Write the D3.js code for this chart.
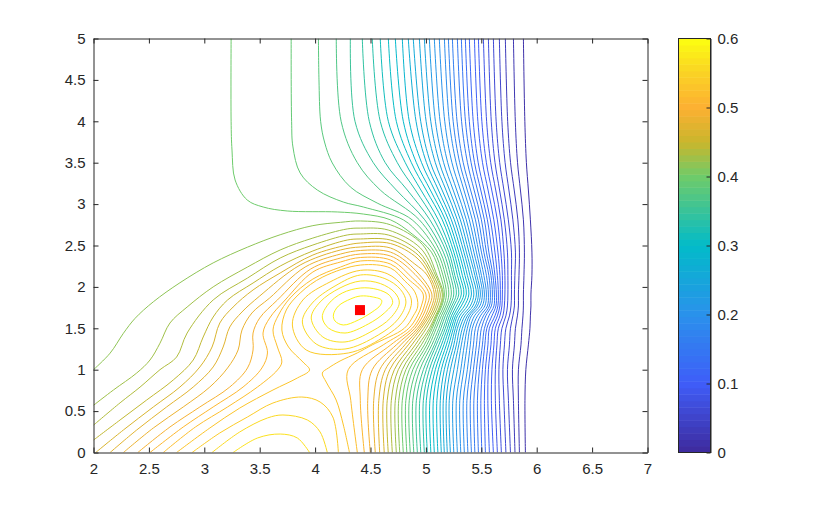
<!DOCTYPE html>
<html><head><meta charset="utf-8">
<script src="https://cdnjs.cloudflare.com/ajax/libs/d3/7.8.5/d3.min.js"></script>
<style>html,body{margin:0;background:#fff}svg{display:block}text{font-family:"Liberation Sans",Arial,sans-serif}</style>
</head><body><svg id="c" width="813" height="509"></svg>
<script>
const levelStep = 0.0118;
const colorbarTicks = [0,0.1,0.2,0.3,0.4,0.5,0.6];
const xTicks = [2,2.5,3,3.5,4,4.5,5,5.5,6,6.5,7];
const yTicks = [0,0.5,1,1.5,2,2.5,3,3.5,4,4.5,5];
const marker = [4.405,1.72];
const colorStops = [0,0.1,0.2,0.3,0.4,0.45,0.5,0.55,0.6];
const colorValues = ["#3e2a9c","#3f5df8","#2a91ec","#02bbc9","#6fcb6a","#c9b62c","#fdb032","#fad225","#fcff10"];

// contour crossings, one entry per level 1,2,3..., at each height
const upperY = [5,4,3.5,3.17,2.81,2.42,2.14];
const x500 = [5.880,5.790,5.717,5.663,5.609,5.564,5.519,5.474,5.438,5.392,5.356,5.320,5.284,5.239,5.203,5.167,5.121,5.076,5.031,4.986,4.941,4.886,4.841,4.787,4.724,4.661,4.588,4.516,4.426,4.318,4.191];
const x400 = [5.893,5.807,5.738,5.686,5.634,5.590,5.548,5.505,5.469,5.427,5.392,5.357,5.322,5.281,5.246,5.211,5.170,5.128,5.086,5.044,5.002,4.953,4.911,4.850,4.796,4.733,4.661,4.588,4.489,4.360,4.235];
const x350 = [5.907,5.827,5.764,5.715,5.666,5.624,5.585,5.546,5.511,5.472,5.439,5.408,5.375,5.337,5.305,5.273,5.235,5.197,5.160,5.122,5.085,5.041,5.005,4.961,4.914,4.869,4.814,4.742,4.633,4.525,4.381];
const x317 = [5.925,5.853,5.797,5.749,5.704,5.665,5.630,5.594,5.561,5.525,5.495,5.465,5.435,5.403,5.373,5.343,5.311,5.278,5.246,5.213,5.181,5.146,5.113,5.078,5.040,5.002,4.955,4.905,4.832,4.733,4.588];
const x281 = [5.943,5.880,5.830,5.785,5.744,5.708,5.677,5.645,5.613,5.582,5.555,5.528,5.501,5.474,5.447,5.419,5.392,5.365,5.338,5.311,5.284,5.257,5.230,5.203,5.175,5.148,5.112,5.076,5.036,4.990,4.941];
const x242 = [5.957,5.889,5.844,5.808,5.772,5.736,5.704,5.677,5.650,5.623,5.596,5.568,5.546,5.523,5.501,5.478,5.456,5.433,5.410,5.388,5.365,5.343,5.320,5.297,5.275,5.252,5.230,5.207,5.185,5.158,5.130];
const x214 = [5.957,5.885,5.840,5.803,5.772,5.740,5.713,5.690,5.668,5.645,5.623,5.605,5.587,5.568,5.546,5.523,5.501,5.483,5.460,5.442,5.419,5.397,5.374,5.352,5.329,5.306,5.284,5.261,5.243,5.221,5.198];

const lowerY = [1.914,1.77,1.65,1.5,1.3,1.0,0.63,0];
const x191 = [5.948,5.880,5.835,5.799,5.772,5.740,5.713,5.690,5.672,5.654,5.636,5.618,5.600,5.582,5.564,5.546,5.528,5.510,5.492,5.474,5.456,5.433,5.411,5.388,5.365,5.343,5.320,5.297,5.275,5.252,5.230,5.207,5.185,5.167];
const x177 = [5.948,5.880,5.835,5.799,5.768,5.736,5.708,5.686,5.668,5.650,5.632,5.614,5.591,5.573,5.555,5.532,5.510,5.487,5.465,5.447,5.424,5.401,5.374,5.347,5.320,5.297,5.275,5.252,5.234,5.216,5.198,5.180,5.162,5.144,5.135,5.126,5.108,5.090,5.072,5.054,5.031,5.009,4.986,4.959];
const x165 = [5.943,5.876,5.826,5.785,5.754,5.722,5.695,5.668,5.645,5.623,5.596,5.568,5.541,5.519,5.492,5.465,5.438,5.411,5.392,5.374,5.352,5.329,5.306,5.284,5.266,5.248,5.230,5.212,5.194,5.175,5.157,5.139,5.121,5.103,5.094,5.085,5.067,5.049,5.031,5.013,4.995,4.972,4.950,4.923];
const x150 = [5.939,5.867,5.808,5.763,5.722,5.686,5.654,5.627,5.600,5.573,5.550,5.528,5.501,5.474,5.447,5.419,5.397,5.374,5.352,5.329,5.306,5.284,5.266,5.248,5.230,5.212,5.194,5.175,5.157,5.135,5.117,5.094,5.076,5.058,5.045,5.031,5.004,4.982,4.959,4.941,4.923,4.900,4.877,4.846];
const x130 = [5.925,5.858,5.799,5.754,5.709,5.672,5.641,5.614,5.587,5.560,5.532,5.510,5.483,5.456,5.429,5.401,5.374,5.347,5.320,5.297,5.275,5.252,5.230,5.207,5.185,5.162,5.140,5.117,5.094,5.076,5.054,5.031,5.009,4.986,4.959,4.932,4.904,4.873,4.841,4.810,4.773,4.733,4.683,4.615];
const x100 = [5.902,5.835,5.781,5.736,5.695,5.659,5.627,5.596,5.564,5.537,5.510,5.483,5.456,5.429,5.401,5.374,5.342,5.315,5.284,5.252,5.221,5.194,5.166,5.139,5.112,5.085,5.058,5.031,5.004,4.977,4.945,4.914,4.882,4.850,4.819,4.787,4.751,4.715,4.674,4.633,4.583,4.516,4.426,4.299];
const x063 = [5.894,5.835,5.790,5.745,5.704,5.663,5.627,5.591,5.559,5.528,5.496,5.465,5.433,5.401,5.370,5.338,5.306,5.275,5.243,5.211,5.184,5.157,5.130,5.099,5.067,5.036,5.004,4.977,4.945,4.914,4.882,4.850,4.819,4.787,4.755,4.724,4.688,4.651,4.615,4.575,4.529,4.475,4.408,4.322];
const x000 = [5.898,5.844,5.804,5.763,5.722,5.681,5.645,5.609,5.573,5.537,5.505,5.474,5.442,5.411,5.379,5.347,5.315,5.284,5.252,5.221,5.193,5.166,5.139,5.108,5.076,5.045,5.013,4.986,4.954,4.923,4.891,4.859,4.828,4.796,4.764,4.733,4.697,4.660,4.624,4.583,4.543,4.498,4.444,4.381];

// upper parts of levels that do not follow the stations
const upper32 = [[4.03,5],[4.035,4.5],[4.05,4],[4.085,3.75],[4.155,3.497],[4.318,3.207],[4.56,3.013],[4.876,2.81],[5.103,2.42],[5.175,2.144]];
const upper33 = [[3.784,5],[3.788,4],[3.80,3.69],[3.865,3.376],[4.02,3.17],[4.254,3.025],[4.435,2.965],[4.796,2.81],[4.95,2.627],[5.076,2.42],[5.153,2.144]];
const upper34 = [[3.242,5],[3.242,4],[3.25,3.653],[3.278,3.291],[3.387,3.05],[3.531,2.965],[3.748,2.917],[4.20,2.905],[4.435,2.88],[4.68,2.81],[4.876,2.639],[5.05,2.42],[5.13,2.144]];
const upper35 = [[2,1.0],[2.15,1.20],[2.27,1.44],[2.375,1.62],[2.54,1.82],[2.78,2.05],[3.08,2.29],[3.39,2.48],[3.685,2.63],[3.98,2.74],[4.23,2.78],[4.41,2.796],[4.68,2.75],[4.97,2.51],[5.10,2.14],[5.157,1.914]];
const upper36 = [[2,0.57],[2.18,0.755],[2.39,0.96],[2.51,1.117],[2.60,1.32],[2.69,1.564],[2.845,1.757],[3.08,2.0],[3.39,2.24],[3.685,2.446],[3.98,2.59],[4.29,2.70],[4.41,2.71],[4.66,2.687],[4.95,2.47],[5.085,2.144],[5.148,1.914]];
const upper37 = [[2,0.33],[2.24,0.60],[2.42,0.79],[2.60,1.0],[2.75,1.153],[2.845,1.443],[3.08,1.842],[3.39,2.107],[3.685,2.349],[3.98,2.506],[4.29,2.627],[4.41,2.639],[4.66,2.627],[4.93,2.434],[5.067,2.144],[5.13,1.914]];
const upper38 = [[2,0.15],[2.24,0.393],[2.48,0.634],[2.72,0.876],[2.90,1.117],[2.99,1.395],[3.08,1.636],[3.21,1.842],[3.44,2.047],[3.685,2.252],[3.98,2.434],[4.29,2.566],[4.41,2.579],[4.68,2.566],[4.93,2.385],[5.05,2.144],[5.112,1.914]];
const upper39 = [[2.02,0],[2.27,0.272],[2.54,0.55],[2.78,0.791],[2.96,1.033],[3.07,1.274],[3.14,1.564],[3.26,1.757],[3.44,1.963],[3.685,2.168],[3.98,2.385],[4.29,2.506],[4.41,2.53],[4.68,2.524],[4.92,2.349],[5.03,2.144],[5.094,1.914]];
const upper40 = [[2.15,0],[2.39,0.272],[2.66,0.55],[2.90,0.791],[3.08,1.033],[3.17,1.274],[3.23,1.516],[3.34,1.697],[3.50,1.89],[3.865,2.264],[4.23,2.446],[4.41,2.482],[4.68,2.47],[4.90,2.276],[5.01,2.144],[5.076,1.914]];
const upper41 = [[2.27,0],[2.54,0.296],[2.81,0.55],[3.05,0.791],[3.21,1.021],[3.305,1.238],[3.34,1.479],[3.43,1.685],[3.59,1.866],[3.91,2.24],[4.23,2.397],[4.41,2.44],[4.68,2.42],[4.885,2.228],[5.054,1.914]];
const upper42 = [[2.40,0],[2.69,0.308],[2.96,0.55],[3.23,0.791],[3.39,1.021],[3.44,1.238],[3.44,1.443],[3.50,1.624],[3.66,1.842],[3.96,2.216],[4.23,2.349],[4.41,2.397],[4.68,2.373],[4.88,2.18],[5.03,1.914]];
const upper43 = [[2.51,0],[2.81,0.308],[3.08,0.55],[3.35,0.791],[3.52,1.021],[3.57,1.202],[3.53,1.443],[3.59,1.624],[3.73,1.842],[3.98,2.18],[4.23,2.301],[4.41,2.355],[4.68,2.325],[4.86,2.132],[5.0,1.914]];
const upper44 = [[2.63,0],[2.92,0.308],[3.21,0.55],[3.48,0.791],[3.66,0.996],[3.70,1.093],[3.66,1.274],[3.62,1.479],[3.67,1.661],[3.775,1.866],[3.98,2.095],[4.23,2.24],[4.41,2.313],[4.68,2.276],[4.84,2.095],[4.975,1.914]];
const full45 = [[2.75,0],[3.05,0.296],[3.32,0.537],[3.62,0.755],[3.84,0.90],[3.95,0.996],[3.89,1.093],[3.76,1.274],[3.70,1.479],[3.74,1.721],[3.865,1.926],[4.07,2.12],[4.41,2.264],[4.68,2.228],[4.81,2.071],[4.90,1.94],[4.927,1.77],[4.886,1.65],[4.805,1.5],[4.516,1.3],[4.38,1.202],[4.225,1.105],[4.12,1.02],[4.065,0.96],[4.10,0.851],[4.19,0.634],[4.255,0.332],[4.31,0]];
// lobes at the bottom
const lobe46 = [[2.89,0],[3.14,0.236],[3.39,0.429],[3.62,0.598],[3.88,0.67],[4.045,0.61],[4.16,0.429],[4.21,0]];
const lobe47 = [[3.07,0],[3.32,0.248],[3.57,0.417],[3.71,0.453],[3.93,0.393],[4.045,0.248],[4.11,0]];
const lobe48 = [[3.26,0],[3.48,0.175],[3.685,0.223],[3.84,0.175],[3.95,0]];
// closed rings round the peak
const ring46 = [[3.795,1.54],[3.89,1.842],[4.135,2.06],[4.41,2.2],[4.65,2.16],[4.80,2.0],[4.87,1.83],[4.805,1.60],[4.605,1.383],[4.30,1.202],[3.92,1.238]];
const ring47 = [[3.885,1.576],[3.975,1.806],[4.18,2.011],[4.41,2.144],[4.63,2.10],[4.77,1.97],[4.82,1.818],[4.75,1.612],[4.57,1.419],[4.27,1.25],[4.01,1.31]];
const ring48 = [[3.965,1.624],[4.045,1.818],[4.225,1.987],[4.41,2.071],[4.59,2.04],[4.72,1.93],[4.76,1.806],[4.68,1.624],[4.515,1.467],[4.27,1.335],[4.07,1.395]];
const ring49 = [[4.065,1.636],[4.12,1.793],[4.245,1.926],[4.41,1.987],[4.56,1.97],[4.67,1.90],[4.70,1.81],[4.625,1.685],[4.48,1.552],[4.27,1.443],[4.12,1.504]];
const ring50 = [[4.165,1.661],[4.21,1.769],[4.32,1.854],[4.41,1.89],[4.515,1.88],[4.60,1.84],[4.59,1.78],[4.515,1.697],[4.39,1.60],[4.255,1.54],[4.18,1.588]];

const upperStations = [x500,x400,x350,x317,x281,x242,x214];
const lowerStations = [x191,x177,x165,x150,x130,x100,x063,x000];
const upperSpecial = {32:upper32,33:upper33,34:upper34,35:upper35,36:upper36,37:upper37,38:upper38,39:upper39,40:upper40,41:upper41,42:upper42,43:upper43,44:upper44};

const plot = {l:93.5,r:647.5,t:38.5,b:452.5};
const bar = {l:678.5,r:710.5};
const ink = "#262626";
const svg = d3.select("#c");
const x = d3.scaleLinear().domain([2,7]).range([plot.l,plot.r]);
const y = d3.scaleLinear().domain([0,5]).range([plot.b,plot.t]);
const cBar = d3.scaleLinear().domain([0,0.6]).range([plot.b,plot.t]);
const ramp = d3.scaleLinear().domain(colorStops).range(colorValues).interpolate(d3.interpolateRgb);
const nBands = 64;
const bandColor = v => ramp((Math.min(nBands-1,Math.floor(v/0.6*nBands))+0.5)/nBands*0.6);

svg.append("defs").append("clipPath").attr("id","pc").append("rect")
  .attr("x",plot.l).attr("y",plot.t).attr("width",plot.r-plot.l).attr("height",plot.b-plot.t);

const lines = [];
for (let k=1;k<=44;k++){
  const pts = [];
  if (upperSpecial[k]) pts.push(...upperSpecial[k]);
  else upperStations.forEach((s,i)=>pts.push([s[k-1],upperY[i]]));
  lowerStations.forEach((s,i)=>{ if (s[k-1]!==undefined) pts.push([s[k-1],lowerY[i]]); });
  lines.push({k,pts,closed:false});
}
lines.push({k:45,pts:full45,closed:false});
[[46,lobe46],[47,lobe47],[48,lobe48]].forEach(([k,pts])=>lines.push({k,pts,closed:false}));
[[46,ring46],[47,ring47],[48,ring48],[49,ring49],[50,ring50]].forEach(([k,pts])=>lines.push({k,pts,closed:true}));

const gen = d3.line().x(d=>x(d[0])).y(d=>y(d[1]));
const g = svg.append("g").attr("clip-path","url(#pc)");
g.selectAll("path").data(lines).join("path")
  .attr("d",d=>{gen.curve(d.closed?d3.curveCatmullRomClosed.alpha(0.5):d3.curveCatmullRom.alpha(0.5));return gen(d.pts);})
  .attr("fill","none").attr("stroke-width",1)
  .attr("stroke",d=>bandColor(d.k*levelStep));

const ms = 10;
svg.append("rect").attr("x",x(marker[0])-ms/2).attr("y",y(marker[1])-ms/2).attr("width",ms).attr("height",ms).attr("fill","#ff0000");

function style(a,labels){
  a.selectAll("path.domain").attr("stroke",ink).attr("stroke-width",1);
  a.selectAll(".tick line").attr("stroke",ink).attr("stroke-width",1);
  a.selectAll("text").attr("fill",ink).style("font-size","15px").style("font-family",'"Liberation Sans",Arial,sans-serif');
  if(!labels) a.selectAll("text").remove();
}
const fmt = d=>String(d);
style(svg.append("g").attr("transform",`translate(0,${plot.b})`).call(d3.axisBottom(x).tickValues(xTicks).tickFormat(fmt).tickSizeInner(-5).tickSizeOuter(0).tickPadding(11)),true);
style(svg.append("g").attr("transform",`translate(0,${plot.t})`).call(d3.axisTop(x).tickValues(xTicks).tickFormat(fmt).tickSizeInner(-5).tickSizeOuter(0)),false);
style(svg.append("g").attr("transform",`translate(${plot.l},0)`).call(d3.axisLeft(y).tickValues(yTicks).tickFormat(fmt).tickSizeInner(-5).tickSizeOuter(0).tickPadding(8)),true);
style(svg.append("g").attr("transform",`translate(${plot.r},0)`).call(d3.axisRight(y).tickValues(yTicks).tickFormat(fmt).tickSizeInner(-5).tickSizeOuter(0)),false);

const bands = d3.range(nBands);
svg.append("g").selectAll("rect").data(bands).join("rect")
  .attr("x",bar.l).attr("width",bar.r-bar.l)
  .attr("y",i=>cBar((i+1)/nBands*0.6)).attr("height",i=>cBar(i/nBands*0.6)-cBar((i+1)/nBands*0.6)+0.5)
  .attr("fill",i=>ramp((i+0.5)/nBands*0.6));
svg.append("rect").attr("x",bar.l).attr("y",plot.t).attr("width",bar.r-bar.l).attr("height",plot.b-plot.t).attr("fill","none").attr("stroke",ink);
style(svg.append("g").attr("transform",`translate(${bar.r},0)`).call(d3.axisRight(cBar).tickValues(colorbarTicks).tickFormat(fmt).tickSizeInner(-4).tickSizeOuter(0).tickPadding(7)),true);
</script></body></html>
